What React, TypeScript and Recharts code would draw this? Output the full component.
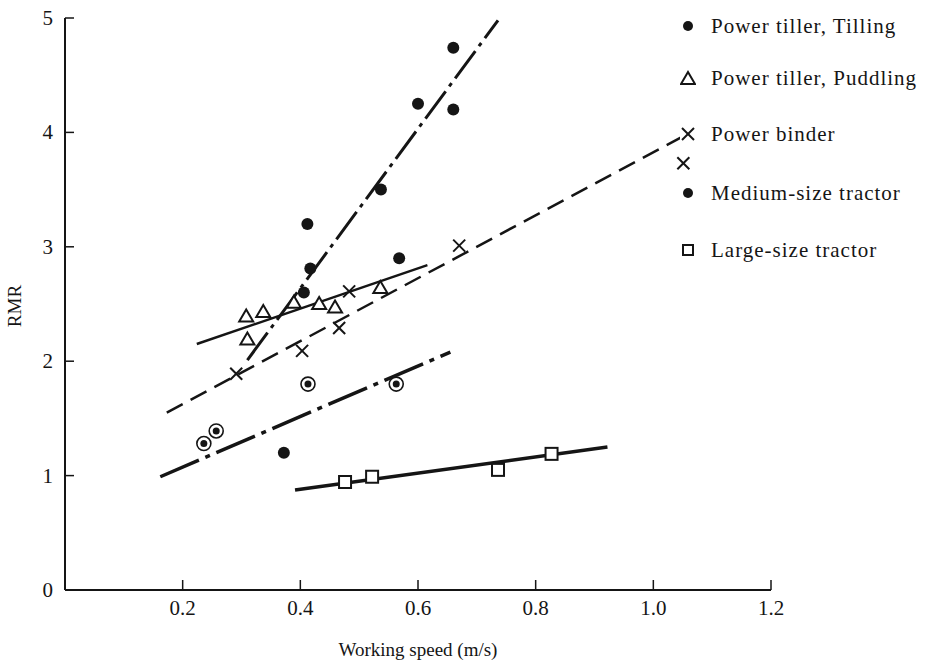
import { ScatterChart, Scatter, XAxis, YAxis, Label } from "recharts";

const xTicks = [0.2, 0.4, 0.6, 0.8, 1.0, 1.2];
const yTicks = [0, 1, 2, 3, 4, 5];

const tilling = [
  { x: 0.66, y: 4.74 },
  { x: 0.6, y: 4.25 },
  { x: 0.66, y: 4.2 },
  { x: 0.537, y: 3.5 },
  { x: 0.412, y: 3.2 },
  { x: 0.568, y: 2.9 },
  { x: 0.417, y: 2.81 },
  { x: 0.406, y: 2.6 },
];
const tillingFit = [
  { x: 0.31, y: 2.01 },
  { x: 0.736, y: 4.98 },
];

const puddling = [
  { x: 0.308, y: 2.39 },
  { x: 0.337, y: 2.43 },
  { x: 0.31, y: 2.19 },
  { x: 0.389, y: 2.51 },
  { x: 0.432, y: 2.5 },
  { x: 0.459, y: 2.47 },
  { x: 0.536, y: 2.64 },
];
const puddlingFit = [
  { x: 0.224, y: 2.15 },
  { x: 0.616, y: 2.84 },
];

const binder = [
  { x: 0.291, y: 1.89 },
  { x: 0.403, y: 2.09 },
  { x: 0.466, y: 2.29 },
  { x: 0.483, y: 2.61 },
  { x: 0.67, y: 3.01 },
  { x: 1.051, y: 3.73 },
];
const binderFit = [
  { x: 0.173, y: 1.55 },
  { x: 1.063, y: 4.0 },
];

const medium = [
  { x: 0.236, y: 1.28 },
  { x: 0.257, y: 1.39 },
  { x: 0.413, y: 1.8 },
  { x: 0.563, y: 1.8 },
];
const mediumSolid = [{ x: 0.372, y: 1.2 }];
const mediumFit = [
  { x: 0.162, y: 0.99 },
  { x: 0.655, y: 2.08 },
];

const large = [
  { x: 0.476, y: 0.944 },
  { x: 0.522, y: 0.99 },
  { x: 0.736, y: 1.05 },
  { x: 0.827, y: 1.19 },
];
const largeFit = [
  { x: 0.391, y: 0.874 },
  { x: 0.922, y: 1.25 },
];

const legendItems = [
  { name: "Power tiller, Tilling", mark: "dot", top: 26 },
  { name: "Power tiller, Puddling", mark: "tri", top: 78 },
  { name: "Power binder", mark: "cross", top: 134 },
  { name: "Medium-size tractor", mark: "dot", top: 193 },
  { name: "Large-size tractor", mark: "square", top: 250 },
];

const INK = "#151515";
const FONT = "'Liberation Serif', serif";

const Dot = (p: any) => <circle cx={p.cx} cy={p.cy} r={6} fill={INK} />;
const Tri = (p: any) => (
  <path
    d={`M${p.cx},${p.cy - 7} L${p.cx + 7},${p.cy + 5} L${p.cx - 7},${p.cy + 5} Z`}
    fill="#fff"
    stroke={INK}
    strokeWidth={2}
  />
);
const Cross = (p: any) => (
  <g stroke={INK} strokeWidth={2}>
    <line x1={p.cx - 6} y1={p.cy - 6} x2={p.cx + 6} y2={p.cy + 6} />
    <line x1={p.cx - 6} y1={p.cy + 6} x2={p.cx + 6} y2={p.cy - 6} />
  </g>
);
const Bull = (p: any) => (
  <g>
    <circle cx={p.cx} cy={p.cy} r={7} fill="#fff" stroke={INK} strokeWidth={1.6} />
    <circle cx={p.cx} cy={p.cy} r={3.5} fill={INK} />
  </g>
);
const Sq = (p: any) => (
  <rect x={p.cx - 6} y={p.cy - 6} width={12} height={12} fill="#fff" stroke={INK} strokeWidth={2} />
);
const None = () => <g />;

const XTick = (p: any) => (
  <g>
    <line x1={p.x} x2={p.x} y1={p.y} y2={p.y - 10} stroke={INK} strokeWidth={1.5} />
    <text x={p.x} y={p.y + 25} textAnchor="middle" fontFamily={FONT} fontSize={21} fill={INK}>
      {Number(p.payload.value).toFixed(1)}
    </text>
  </g>
);

const YTick = (p: any) => (
  <g>
    {p.payload.value > 0 && (
      <line x1={p.x} x2={p.x + 9} y1={p.y} y2={p.y} stroke={INK} strokeWidth={1.5} />
    )}
    <text x={p.x - 12} y={p.y + 7} textAnchor="end" fontFamily={FONT} fontSize={21} fill={INK}>
      {p.payload.value}
    </text>
  </g>
);

function LegendMark({ mark }: { mark: string }) {
  const c = { cx: 8, cy: 8 };
  return (
    <svg width={16} height={16} style={{ display: "block" }}>
      {mark === "dot" && <circle cx={8} cy={8} r={5} fill={INK} />}
      {mark === "tri" && Tri({ cx: 8, cy: 9 })}
      {mark === "cross" && Cross(c)}
      {mark === "square" && (
        <rect x={3} y={3} width={10} height={10} fill="#fff" stroke={INK} strokeWidth={2} />
      )}
    </svg>
  );
}

export default function App() {
  return (
    <div style={{ position: "relative", width: 932, height: 661, background: "#fff" }}>
      <style>{"body{margin:0}"}</style>
      <ScatterChart width={932} height={661} margin={{ top: 18, right: 161, bottom: 0, left: 64 }}>
        <XAxis
          type="number"
          dataKey="x"
          domain={[0, 1.2]}
          ticks={xTicks}
          height={71}
          tickSize={0}
          tickMargin={0}
          tickLine={false}
          tick={XTick}
          axisLine={{ stroke: INK, strokeWidth: 2 }}
          allowDataOverflow
        >
          <Label
            value="Working speed (m/s)"
            position="insideBottom"
            offset={5}
            style={{ fontFamily: FONT, fontSize: 19, fill: INK }}
          />
        </XAxis>
        <YAxis
          type="number"
          dataKey="y"
          domain={[0, 5]}
          ticks={yTicks}
          width={1}
          tickSize={0}
          tickMargin={0}
          tickLine={false}
          tick={YTick}
          axisLine={{ stroke: INK, strokeWidth: 2 }}
          allowDataOverflow
        >
          <Label
            content={() => (
              <text
                x={21}
                y={306}
                transform="rotate(-90, 21, 306)"
                textAnchor="middle"
                fontFamily={FONT}
                fontSize={19}
                fill={INK}
              >
                RMR
              </text>
            )}
          />
        </YAxis>

        <Scatter data={tillingFit} shape={None} legendType="none" isAnimationActive={false}
          line={{ stroke: INK, strokeWidth: 3, strokeDasharray: "34 6 4 6" }} />
        <Scatter data={puddlingFit} shape={None} legendType="none" isAnimationActive={false}
          line={{ stroke: INK, strokeWidth: 2.5 }} />
        <Scatter data={binderFit} shape={None} legendType="none" isAnimationActive={false}
          line={{ stroke: INK, strokeWidth: 2.5, strokeDasharray: "18 9" }} />
        <Scatter data={mediumFit} shape={None} legendType="none" isAnimationActive={false}
          line={{ stroke: INK, strokeWidth: 3.5, strokeDasharray: "42 7 5 7" }} />
        <Scatter data={largeFit} shape={None} legendType="none" isAnimationActive={false}
          line={{ stroke: INK, strokeWidth: 3.5 }} />

        <Scatter name="Power tiller, Tilling" data={tilling} shape={Dot} isAnimationActive={false} />
        <Scatter name="Power tiller, Puddling" data={puddling} shape={Tri} isAnimationActive={false} />
        <Scatter name="Power binder" data={binder} shape={Cross} isAnimationActive={false} />
        <Scatter name="Medium-size tractor" data={medium} shape={Bull} isAnimationActive={false} />
        <Scatter data={mediumSolid} shape={Dot} legendType="none" isAnimationActive={false} />
        <Scatter name="Large-size tractor" data={large} shape={Sq} isAnimationActive={false} />
      </ScatterChart>

      {legendItems.map((it) => (
        <div
          key={it.name}
          style={{
            position: "absolute",
            left: 680,
            top: it.top - 13,
            height: 26,
            display: "flex",
            alignItems: "center",
            gap: 15,
            fontFamily: FONT,
            fontSize: 21,
            letterSpacing: 1,
            color: INK,
            whiteSpace: "nowrap",
            background: it.mark === "cross" ? "#fff" : "transparent",
          }}
        >
          <LegendMark mark={it.mark} />
          <span>{it.name}</span>
        </div>
      ))}
    </div>
  );
}
